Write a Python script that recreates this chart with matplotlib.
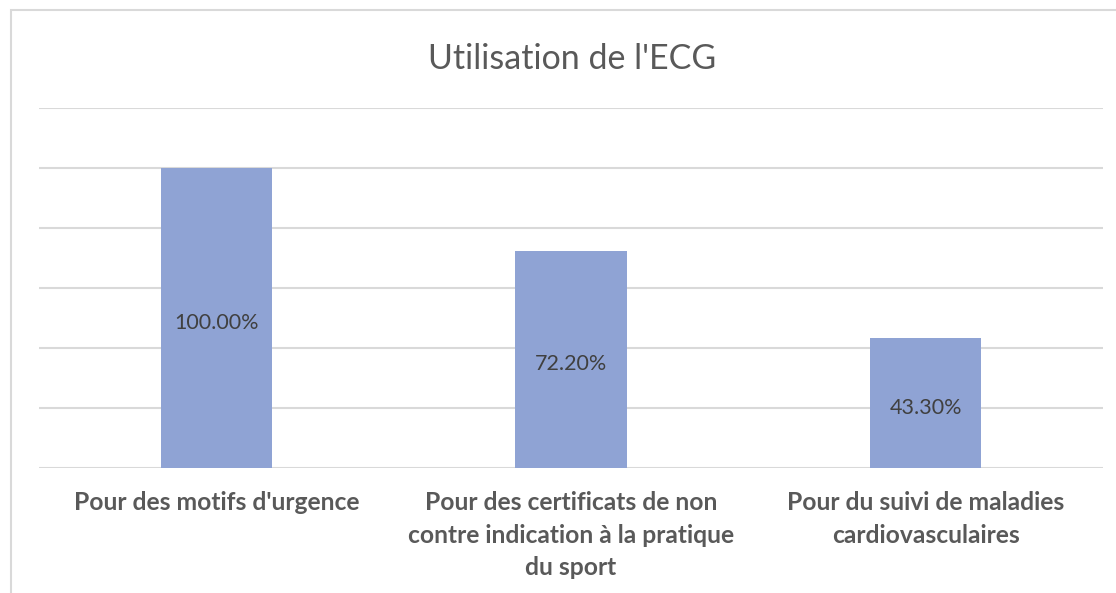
import numpy as np
import matplotlib.pyplot as plt
from matplotlib.patches import Rectangle

plt.rcParams['font.family'] = ['Lato', 'DejaVu Sans']

title = "Utilisation de l'ECG"
categories = ["Pour des motifs d'urgence",
              "Pour des certificats de non\ncontre indication à la pratique\ndu sport",
              "Pour du suivi de maladies\ncardiovasculaires"]
values = [100.0, 72.2, 43.3]
labels = ["100.00%", "72.20%", "43.30%"]

W, H = 1116, 593
fig = plt.figure(figsize=(W / 100, H / 100), dpi=100)

# outer chart frame (only left/top edges are visible in the crop)
fig.add_artist(Rectangle((11 / W, -0.1), 1.2, 1 - 10 / H + 0.1,
                         transform=fig.transFigure, fill=False,
                         edgecolor='#D9D9D9', linewidth=1.5))

ax = fig.add_axes([39 / W, 1 - 467.5 / H, 1064 / W, 359.5 / H])
x = np.arange(len(categories))
bars = ax.bar(x, values, width=0.313, color='#8FA3D4', zorder=3)
anns = ax.bar_label(bars, labels=labels, label_type='center', fontsize=15.5,
                    color='#404040')
for a in anns:
    a.xyann = (0, -3.5)

ax.set_xlim(-0.5, 2.5)
ax.set_ylim(0, 120)
ax.set_yticks(np.arange(0, 121, 20))
ax.yaxis.grid(True, color='#D9D9D9', linewidth=1.5, zorder=0)
ax.set_yticklabels([])
ax.tick_params(axis='y', length=0)
ax.set_xticks(x)
ax.set_xticklabels(categories, fontsize=17.7, fontweight='bold',
                   color='#595959', linespacing=1.5)
ax.tick_params(axis='x', length=0, pad=17)
for s in ax.spines.values():
    s.set_visible(False)

fig.text(572 / W, 1 - 59 / H, title, ha='center', va='center',
         fontsize=24.5, color='#595959')

fig.savefig('out.png', dpi=100)
